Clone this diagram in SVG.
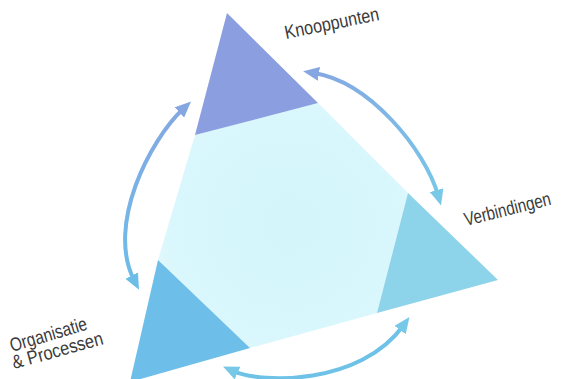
<svg xmlns="http://www.w3.org/2000/svg" width="566" height="379" viewBox="0 0 566 379">
<style>
.lbl{font-family:"Liberation Sans",Arial,sans-serif;font-size:19px;fill:#3a3a3a}
.arc{fill:none;stroke-width:4}
</style>
<defs>
<marker id="mBlue" markerUnits="userSpaceOnUse" markerWidth="16" markerHeight="14" refX="5" refY="7" orient="auto-start-reverse"><path d="M0,0 L16,7 L0,14 z" fill="#86a6e2"/></marker>
<marker id="mCyan" markerUnits="userSpaceOnUse" markerWidth="16" markerHeight="14" refX="5" refY="7" orient="auto-start-reverse"><path d="M0,0 L16,7 L0,14 z" fill="#78c8e8"/></marker>
<marker id="mSky" markerUnits="userSpaceOnUse" markerWidth="16" markerHeight="14" refX="5" refY="7" orient="auto-start-reverse"><path d="M0,0 L16,7 L0,14 z" fill="#6dbde9"/></marker>
<linearGradient id="gTR" gradientUnits="userSpaceOnUse" x1="300" y1="70" x2="440" y2="206"><stop offset="0" stop-color="#86a6e2"/><stop offset="1" stop-color="#78c8e8"/></linearGradient>
<linearGradient id="gL" gradientUnits="userSpaceOnUse" x1="191" y1="101" x2="137" y2="290"><stop offset="0" stop-color="#86a6e2"/><stop offset="1" stop-color="#6dbde9"/></linearGradient>
<radialGradient id="gC" gradientUnits="userSpaceOnUse" cx="290" cy="225" r="150"><stop offset="0" stop-color="#d3f6fb"/><stop offset="0.8" stop-color="#d9f7fc"/><stop offset="1" stop-color="#e6f9fc"/></radialGradient>
</defs>
<g id="center"><polygon points="195,135 318,103 408,193 377,313 250,348 158,260" fill="url(#gC)"/></g>
<g id="knooppunten"><polygon points="227,13 318,103 195,135" fill="#8b9ee0"/><text class="lbl" transform="translate(286,39) rotate(-11.5) scale(0.85,1)">Knooppunten</text></g>
<g id="verbindingen"><polygon points="408,193 498,280 377,313" fill="#8dd3ea"/><text class="lbl" transform="translate(466,226) rotate(-14) scale(0.8,1)">Verbindingen</text></g>
<g id="organisatie"><polygon points="158,260 250,348 130,382" fill="#6dbfea"/><text class="lbl" transform="translate(12,352) rotate(-16.5) scale(0.82,1)">Organisatie</text><text class="lbl" transform="translate(14,369) rotate(-15.5) scale(0.87,1)">&amp; Processen</text></g>
<g id="connectors">
<path class="arc" stroke="url(#gTR)" d="M314,73 C370,82 425,150 438,195" marker-start="url(#mBlue)" marker-end="url(#mCyan)"/>
<path class="arc" stroke="url(#gL)" d="M183,109 C150,140 106,225 134,280" marker-start="url(#mBlue)" marker-end="url(#mSky)"/>
<path class="arc" stroke="#6fc2e7" d="M233,371 C262,384 360,385 403,326" marker-start="url(#mCyan)" marker-end="url(#mCyan)"/>
</g>
</svg>
